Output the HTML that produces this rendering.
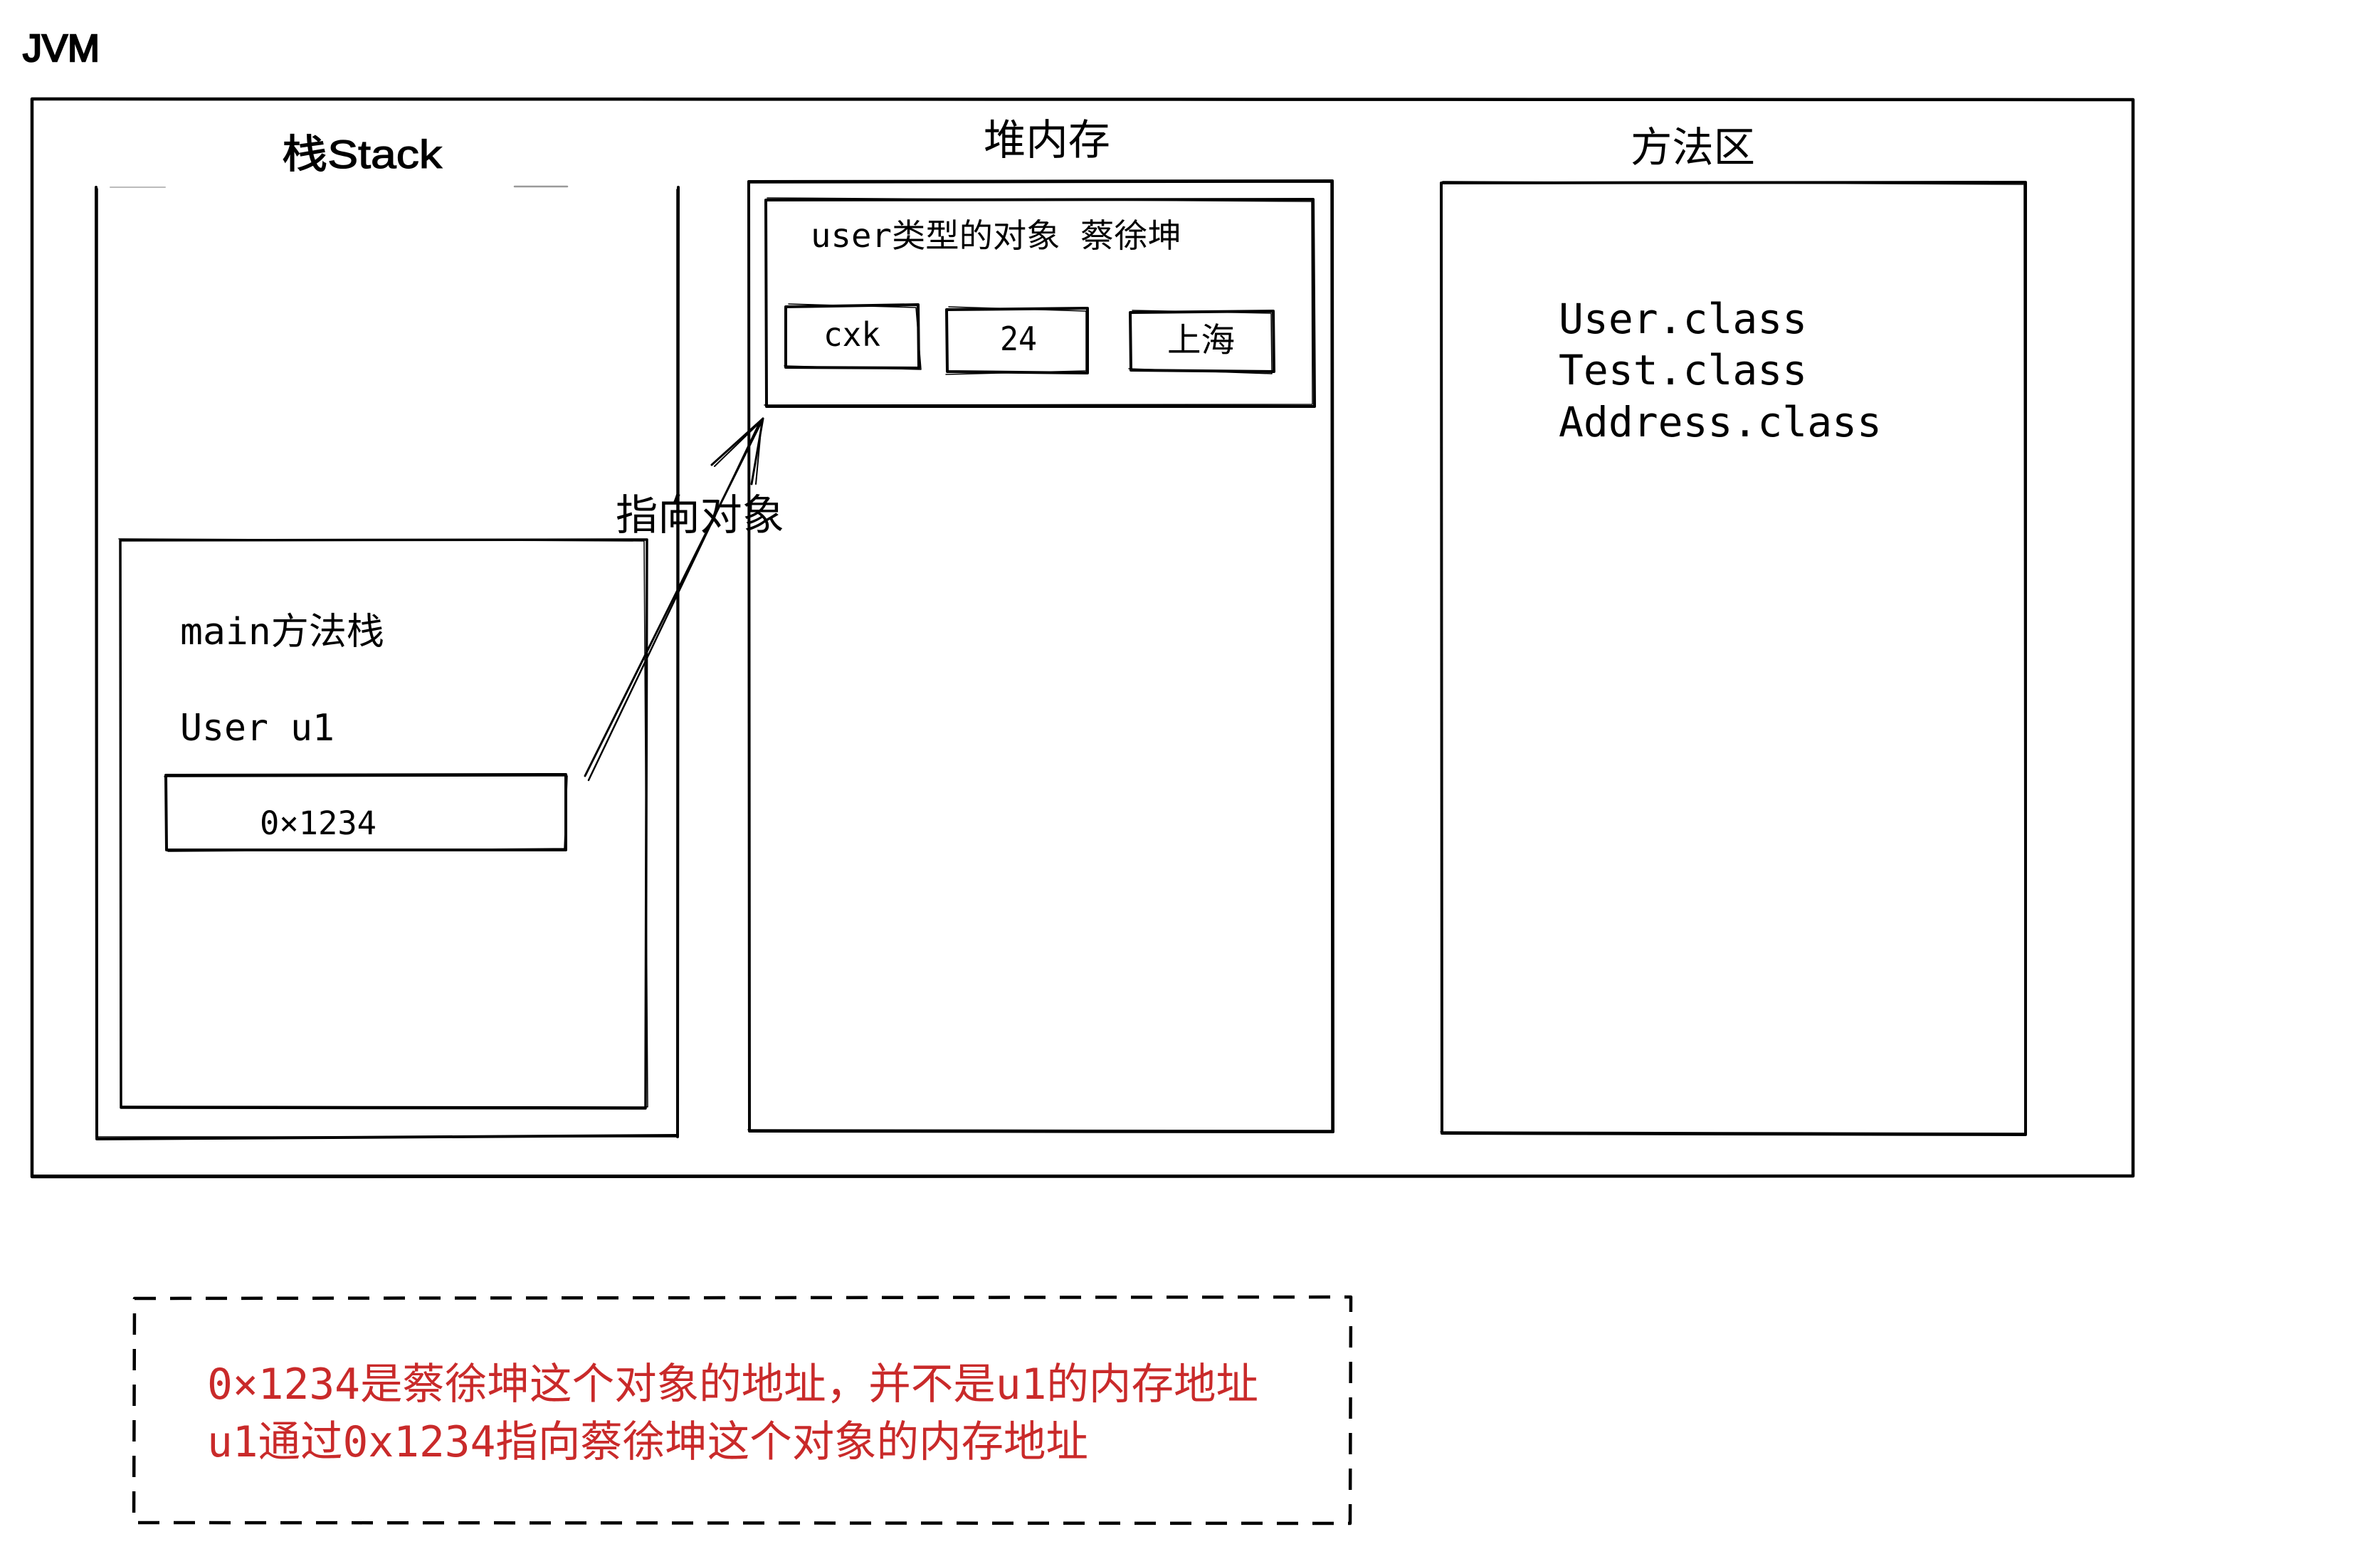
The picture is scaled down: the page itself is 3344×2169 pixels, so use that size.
<!DOCTYPE html>
<html>
<head>
<meta charset="utf-8">
<style>
  html, body { margin: 0; padding: 0; background: #ffffff; }
  body { width: 3344px; height: 2169px; overflow: hidden; }
  svg { display: block; }
  .mono { font-family: "DejaVu Sans Mono", "Liberation Mono", "Noto Sans CJK SC", monospace; }
  .cjk { font-family: "Liberation Sans", "Noto Sans CJK SC", sans-serif; }
</style>
</head>
<body>
<svg width="3344" height="2169" viewBox="0 0 3344 2169" xmlns="http://www.w3.org/2000/svg">
  <rect x="0" y="0" width="3344" height="2169" fill="#ffffff"/>

  <g fill="none" stroke="#000" stroke-linecap="round" stroke-linejoin="round">
    <!-- JVM outer box -->
    <path d="M45,139 L2997,140 L2997,1652 L45,1653 Z" stroke-width="4.5"/>
    <path d="M46,140 L2996,141 L2996,1651 L46,1651" stroke-width="2"/>

    <!-- Stack box (no top edge) -->
    <path d="M135,263 L136,1598" stroke-width="4"/>
    <path d="M137,265 L137,1596" stroke-width="1.5"/>
    <path d="M953,263 L952,1597" stroke-width="4"/>
    <path d="M951,266 L951,1595" stroke-width="1.5"/>
    <path d="M136,1600 L952,1595" stroke-width="4"/>
    <path d="M138,1597 L952,1597" stroke-width="1.5"/>
    <path d="M155,263 L232,263" stroke="#bbb" stroke-width="2"/>
    <path d="M723,262 L797,262" stroke="#999" stroke-width="2.5"/>

    <!-- main frame box -->
    <path d="M169,759 L909,758 L907,1557 L170,1556 Z" stroke-width="3.5"/>
    <path d="M167,757 L905,760 L910,1555 L172,1554" stroke-width="1.5"/>

    <!-- 0x1234 box -->
    <path d="M233,1089 L795,1088 L795,1194 L234,1194 Z" stroke-width="4"/>
    <path d="M231,1091 L797,1090 L793,1192 L236,1196" stroke-width="1.5"/>

    <!-- Heap box -->
    <path d="M1052,255 L1872,254 L1873,1590 L1053,1589 Z" stroke-width="4"/>
    <path d="M1054,257 L1870,256 L1871,1588 L1051,1587" stroke-width="1.5"/>

    <!-- Object box -->
    <path d="M1076,281 L1845,280 L1847,571 L1077,571 Z" stroke-width="4"/>
    <path d="M1078,278 L1843,283 L1844,568 L1074,569" stroke-width="1.5"/>

    <!-- cxk box -->
    <path d="M1104,431 L1290,428 L1291,517 L1104,516 Z" stroke-width="4"/>
    <path d="M1108,427 L1287,432 L1294,519 L1102,514" stroke-width="1.5"/>

    <!-- 24 box -->
    <path d="M1330,435 L1528,433 L1528,524 L1331,522 Z" stroke-width="4"/>
    <path d="M1333,431 L1526,437 L1526,521 L1329,526" stroke-width="1.5"/>

    <!-- 上海 box -->
    <path d="M1588,439 L1789,437 L1790,522 L1589,520 Z" stroke-width="4"/>
    <path d="M1591,436 L1786,440 L1787,525 L1586,518" stroke-width="1.5"/>

    <!-- Method area box -->
    <path d="M2025,257 L2846,256 L2846,1594 L2026,1592 Z" stroke-width="4"/>
    <path d="M2027,255 L2844,259 L2845,1592 L2024,1590" stroke-width="1.5"/>

    <!-- Arrow -->
    <path d="M822,1090 L1072,588" stroke-width="3"/>
    <path d="M827,1096 L1068,592" stroke-width="2.5"/>
    <path d="M1072,588 L1000,653" stroke-width="3"/>
    <path d="M1069,592 L1004,655" stroke-width="2"/>
    <path d="M1072,588 L1056,680" stroke-width="3"/>
    <path d="M1070,594 L1062,680" stroke-width="2"/>

    <!-- Dashed note box -->
    <path d="M189,1824 L1898,1822 L1897,2140 L188,2139 Z" stroke-width="4.5" stroke-dasharray="30 20" stroke-linecap="butt"/>
  </g>

  <!-- Titles -->
  <text x="32" y="86" font-family="Liberation Sans, sans-serif" font-size="54" textLength="108" lengthAdjust="spacingAndGlyphs" fill="#000" stroke="#000" stroke-width="2.5">JVM</text>
  <text x="396" y="236" class="cjk" font-size="56" textLength="225" lengthAdjust="spacingAndGlyphs" fill="#000" stroke="#000" stroke-width="1.2">栈Stack</text>
  <text x="1382" y="217" class="cjk" font-size="59" textLength="178" lengthAdjust="spacingAndGlyphs" fill="#000">堆内存</text>
  <text x="2291" y="227" class="cjk" font-size="58" textLength="175" lengthAdjust="spacingAndGlyphs" fill="#000">方法区</text>

  <!-- Heap contents -->
  <text x="1139" y="347" class="mono" font-size="46" textLength="521" lengthAdjust="spacingAndGlyphs" fill="#000" xml:space="preserve">user类型的对象 蔡徐坤</text>
  <text x="1157" y="486" class="mono" font-size="46" textLength="80" lengthAdjust="spacingAndGlyphs" fill="#000">cxk</text>
  <text x="1405" y="492" class="mono" font-size="46" textLength="52" lengthAdjust="spacingAndGlyphs" fill="#000">24</text>
  <text x="1640" y="494" class="mono" font-size="47" textLength="95" lengthAdjust="spacingAndGlyphs" fill="#000">上海</text>

  <!-- Stack contents -->
  <text x="253" y="905" class="mono" font-size="52" textLength="287" lengthAdjust="spacingAndGlyphs" fill="#000">main方法栈</text>
  <text x="253" y="1040" class="mono" font-size="52" textLength="217" lengthAdjust="spacingAndGlyphs" fill="#000" xml:space="preserve">User u1</text>
  <text x="365" y="1172" class="mono" font-size="45" textLength="164" lengthAdjust="spacingAndGlyphs" fill="#000">0×1234</text>

  <!-- Arrow label -->
  <text x="865" y="744" class="cjk" font-size="59" textLength="237" lengthAdjust="spacingAndGlyphs" fill="#000">指向对象</text>

  <!-- Method area contents -->
  <text x="2190" y="468" class="mono" font-size="58" fill="#000">User.class</text>
  <text x="2190" y="540" class="mono" font-size="58" fill="#000">Test.class</text>
  <text x="2190" y="613" class="mono" font-size="58" fill="#000">Address.class</text>

  <!-- Red note -->
  <text x="291" y="1965" class="mono" font-size="60" textLength="1477" lengthAdjust="spacingAndGlyphs" fill="#c92a2a">0×1234是蔡徐坤这个对象的地址，并不是u1的内存地址</text>
  <text x="291" y="2046" class="mono" font-size="60" textLength="1238" lengthAdjust="spacingAndGlyphs" fill="#c92a2a">u1通过0x1234指向蔡徐坤这个对象的内存地址</text>
</svg>
</body>
</html>
